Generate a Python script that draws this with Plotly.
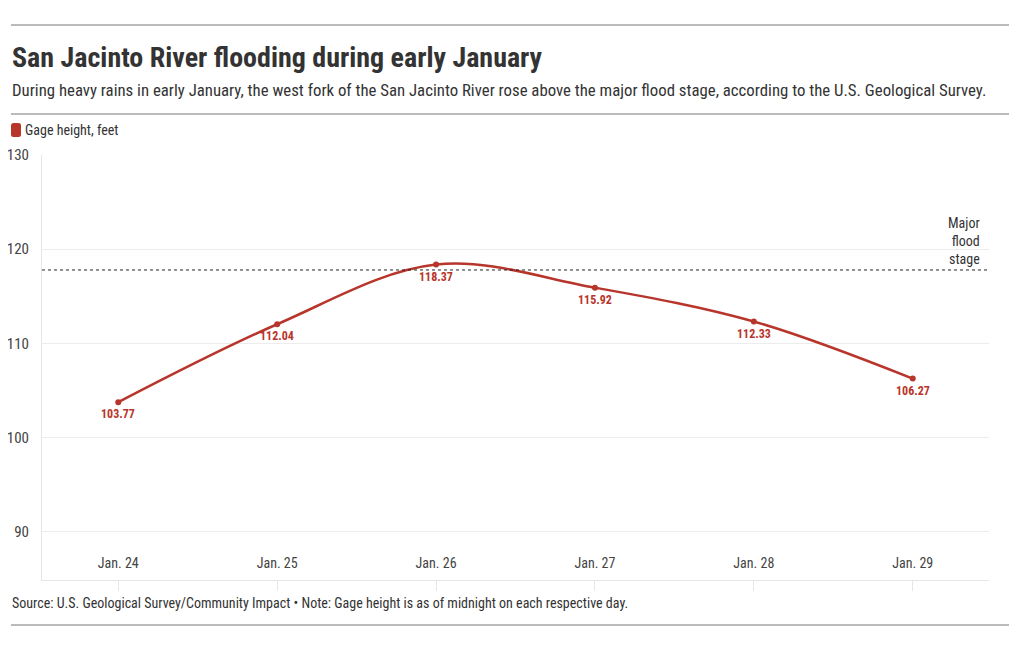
import plotly.graph_objects as go

dates = ["Jan. 24", "Jan. 25", "Jan. 26", "Jan. 27", "Jan. 28", "Jan. 29"]
gage_height = [103.77, 112.04, 118.37, 115.92, 112.33, 106.27]
flood_stage = 117.8
y_ticks = [90, 100, 110, 120, 130]

FONT = "Roboto Condensed, Liberation Sans Narrow, DejaVu Sans Condensed, Roboto, sans-serif"
RED = "#b8352b"
OFF = 8  # default page body margin
W, H = 1004, 634
L, T = 42 - OFF, 155 - OFF
RIGHT, BOTTOM = 989 - OFF, 580 - OFF
R, B = W - RIGHT, H - BOTTOM
PW, PH = W - L - R, H - T - B


def px(x):
    return (x - OFF - L) / PW


def py(y):
    return (BOTTOM - (y - OFF)) / PH


fig = go.Figure()
fig.add_trace(go.Scatter(
    x=dates, y=gage_height, mode="lines+markers",
    line=dict(color=RED, width=2.5, shape="spline", smoothing=1),
    marker=dict(color=RED, size=6),
    showlegend=False, hoverinfo="x+y",
))


def rounded_rect(x0, y0, x1, y1, r):
    return (f"M{x0+r},{y0} L{x1-r},{y0} Q{x1},{y0} {x1},{y0+r} L{x1},{y1-r} Q{x1},{y1} {x1-r},{y1} "
            f"L{x0+r},{y1} Q{x0},{y1} {x0},{y1-r} L{x0},{y0+r} Q{x0},{y0} {x0+r},{y0} Z")


shapes = [
    dict(type="line", xref="paper", yref="y", x0=0, x1=1, y0=flood_stage, y1=flood_stage,
         line=dict(color="#222", width=1, dash="dot")),
    dict(type="line", xref="paper", yref="paper", x0=px(11), x1=px(1009), y0=py(25), y1=py(25),
         line=dict(color="#777", width=1)),
    dict(type="line", xref="paper", yref="paper", x0=px(11), x1=px(1009), y0=py(114), y1=py(114),
         line=dict(color="#777", width=1)),
    dict(type="line", xref="paper", yref="paper", x0=px(11), x1=px(1009), y0=py(625), y1=py(625),
         line=dict(color="#777", width=1)),
    dict(type="path", xsizemode="pixel", ysizemode="pixel", xref="paper", yref="paper",
         xanchor=px(11), yanchor=py(137),
         path=rounded_rect(0, 0, 10, 14, 2.5), fillcolor=RED, line=dict(width=0)),
]

annotations = [
    dict(text="<b>San Jacinto River flooding during early January</b>", x=px(10), y=py(57),
         xref="paper", yref="paper", xanchor="left", yanchor="middle", showarrow=False,
         font=dict(family=FONT, size=28, color="#333")),
    dict(text="During heavy rains in early January, the west fork of the San Jacinto River rose above the major flood stage, according to the U.S. Geological Survey.",
         x=px(10), y=py(90), xref="paper", yref="paper", xanchor="left", yanchor="middle",
         showarrow=False, font=dict(family=FONT, size=16.8, color="#333")),
    dict(text="Gage height, feet", x=px(23), y=py(130), xref="paper", yref="paper",
         xanchor="left", yanchor="middle", showarrow=False, font=dict(family=FONT, size=14, color="#333")),
    dict(text="Major<br>flood<br>stage", x=px(982), y=flood_stage, xref="paper", yref="y",
         xanchor="right", yanchor="bottom", yshift=1, align="right", showarrow=False,
         font=dict(family=FONT, size=14, color="#333")),
    dict(text="Source: U.S. Geological Survey/Community Impact • Note: Gage height is as of midnight on each respective day.",
         x=px(10), y=py(603), xref="paper", yref="paper", xanchor="left", yanchor="middle",
         showarrow=False, font=dict(family=FONT, size=14, color="#333")),
]
for d, v in zip(dates, gage_height):
    annotations.append(dict(text=f"<b>{v:.2f}</b>", x=d, y=v, xref="x", yref="y",
                            xanchor="center", yanchor="middle", yshift=-12, showarrow=False,
                            font=dict(family=FONT, size=12, color=RED)))

fig.update_layout(
    width=W, height=H, margin=dict(l=L, r=R, t=T, b=B),
    paper_bgcolor="white", plot_bgcolor="white",
    font=dict(family=FONT, color="#333"),
    shapes=shapes, annotations=annotations,
    xaxis=dict(range=[-0.48, 5.48], showgrid=False, showline=True, linecolor="#e6e6e6",
               ticks="outside", ticklen=10, tickcolor="#e6e6e6", ticklabelposition="inside",
               ticklabelstandoff=9, automargin=False,
               tickfont=dict(family=FONT, size=14, color="#444"), zeroline=False, fixedrange=True),
    yaxis=dict(range=[84.9, 130], tickvals=y_ticks, showgrid=True, gridcolor="#ececec",
               showline=True, linecolor="#e6e6e6", ticks="", ticklabelstandoff=9, automargin=False,
               tickfont=dict(family=FONT, size=15, color="#444"), zeroline=False, fixedrange=True),
)

fig.write_html("out.html")
